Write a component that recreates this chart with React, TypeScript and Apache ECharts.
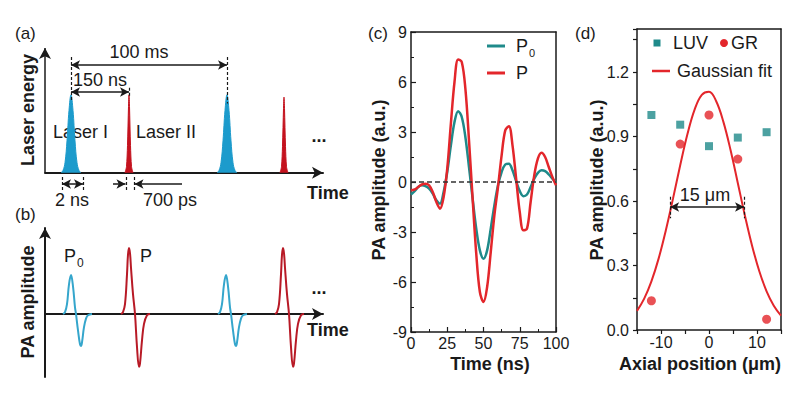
import React, { useEffect, useRef } from "react";
import * as echarts from "echarts";

const FONT = '"Liberation Sans", Arial, Helvetica, sans-serif';

// ---------- Panel (a): schematic laser pulses (schematic units) ----------
const laserIPeaks = [26, 182];
const laserIHeights = [1, 1];
const laserIIPeaks = [84, 239];
const laserIIHeights = [1, 0.97];
const laserIShapeDx = [-10, -8, -6, -4, -2, 0, 2, 4, 6, 8, 10];
const laserIShapeY = [0, 0.03, 0.13, 0.41, 0.8, 1, 0.8, 0.41, 0.13, 0.03, 0];
const laserIIShapeDx = [-4, -2.5, -1.5, -0.5, 0, 0.5, 1.5, 2.5, 4];
const laserIIShapeY = [0, 0.08, 0.35, 0.85, 1, 0.85, 0.35, 0.08, 0];

// ---------- Panel (b): schematic PA signals ----------
const p0Peaks = [26, 181];
const pPeaks = [84, 238];
const p0ShapeDx = [-8, -6, -4, -2, 0, 2, 4, 5, 7, 9, 10, 11, 13, 15, 17, 21];
const p0ShapeY = [0, 0.03, 0.15, 0.45, 0.59, 0.42, 0.1, 0, -0.25, -0.46, -0.485, -0.43, -0.2, -0.07, -0.02, 0];
const pShapeDx = [-8, -6, -4, -2, -1, 0, 1, 2, 4, 6, 8, 10, 11, 13, 15, 18, 21];
const pShapeY = [0, 0.03, 0.15, 0.6, 0.9, 1, 0.92, 0.7, 0.3, 0, -0.5, -0.8, -0.75, -0.4, -0.15, -0.02, 0];

// ---------- Panel (c): measured PA signals ----------
const timeNs = [
  0, 2.5, 5, 7.5, 10, 12.5, 15, 17.5, 20, 22.5, 25, 27.5, 30, 32.5, 35, 37.5, 40, 42.5, 45, 47.5,
  50, 52.5, 55, 57.5, 60, 62.5, 65, 67.5, 70, 72.5, 75, 77.5, 80, 82.5, 85, 87.5, 90, 92.5, 95, 97.5, 100,
];
const ampP0 = [
  -0.75, -0.55, -0.3, -0.2, -0.25, -0.4, -0.7, -1.1, -1.3, -0.6, 0.6, 2.2, 3.6, 4.25, 3.9, 2.7, 0.9, -1.0, -2.8, -4.1,
  -4.6, -4.1, -2.8, -1.4, -0.2, 0.6, 1.05, 1.1, 0.7, 0.05, -0.55, -0.85, -0.75, -0.3, 0.2, 0.55, 0.7, 0.65, 0.45, 0.2, -0.05,
];
const ampP = [
  -0.5, -0.45, -0.3, -0.15, -0.1, -0.2, -0.6, -1.2, -1.6, -0.9, 0.8, 3.5, 6.0, 7.35, 7.2, 5.6, 2.5, -1.0, -4.3, -6.6,
  -7.2, -6.3, -4.2, -2.0, -0.3, 1.6, 3.1, 3.35, 2.2, 0.2, -1.8, -2.9, -2.8, -1.2, 0.4, 1.4, 1.75, 1.5, 0.9, 0.3, -0.2,
];

// ---------- Panel (d): axial profile ----------
const axialPos = [-12, -6, 0, 6, 12];
const luvAmp = [1.0, 0.955, 0.855, 0.895, 0.92];
const grAmp = [0.136, 0.865, 1.0, 0.795, 0.05];
const fitPos = [-15, -13.5, -12, -10.5, -9, -7.5, -6, -4.5, -3, -1.5, 0, 1.5, 3, 4.5, 6, 7.5, 9, 10.5, 12, 13.5, 15];
const fitAmp = [0.089, 0.146, 0.226, 0.332, 0.463, 0.611, 0.766, 0.91, 1.025, 1.094, 1.108, 1.064, 0.968, 0.836, 0.684, 0.53, 0.39, 0.272, 0.18, 0.113, 0.067];

const BLUE_A = "#1c9bcc";
const RED_A = "#c4121e";
const BLUE_B = "#35a6cc";
const RED_B = "#b81a26";
const TEAL = "#1f8a8a";
const RED = "#e3262b";
const DARK = "#1a1a1a";

function pulse(peak: number, h: number, dx: number[], ys: number[]) {
  return dx.map((d, i) => [peak + d, ys[i] * h]);
}

function txt(text: string, x: number, y: number, o: any = {}) {
  return {
    type: "text",
    x,
    y,
    rotation: o.rotation || 0,
    style: {
      text,
      fontFamily: FONT,
      fontSize: o.size || 18,
      fontWeight: o.bold ? "bold" : "normal",
      fill: o.color || DARK,
      align: o.align || "left",
      verticalAlign: "middle",
    },
  };
}

export default function App() {
  const ref = useRef<HTMLDivElement>(null);
  useEffect(() => {
    if (!ref.current) return;
    const chart = echarts.init(ref.current, undefined, { renderer: "svg" });

    const schemAxisLine = {
      show: true,
      symbol: ["none", "arrow"],
      symbolSize: [9, 11],
      lineStyle: { color: DARK, width: 2 },
    };
    const noDeco = {
      axisTick: { show: false },
      axisLabel: { show: false },
      splitLine: { show: false },
    };
    const boxLine = { show: true, onZero: false, lineStyle: { color: DARK, width: 1.5 } };
    const tickLabel = { fontFamily: FONT, fontSize: 16, color: DARK };

    const series: any[] = [];
    laserIPeaks.forEach((p, i) =>
      series.push({
        type: "line", xAxisIndex: 0, yAxisIndex: 0, smooth: 0.4, symbol: "none",
        data: pulse(p, laserIHeights[i], laserIShapeDx, laserIShapeY),
        lineStyle: { color: BLUE_A, width: 1 }, areaStyle: { color: BLUE_A, opacity: 1 },
      })
    );
    laserIIPeaks.forEach((p, i) =>
      series.push({
        type: "line", xAxisIndex: 0, yAxisIndex: 0, smooth: 0.3, symbol: "none",
        data: pulse(p, laserIIHeights[i], laserIIShapeDx, laserIIShapeY),
        lineStyle: { color: RED_A, width: 1 }, areaStyle: { color: RED_A, opacity: 1 },
      })
    );
    // annotations (a): arrows
    series.push({
      type: "line", xAxisIndex: 0, yAxisIndex: 0, data: [],
      markLine: {
        silent: true, symbolSize: [7, 9], label: { show: false },
        lineStyle: { color: DARK, width: 1.5, type: "solid" },
        data: [
          [{ coord: [0, 0], symbol: "none" }, { coord: [0, 1.6], symbol: "arrow", symbolSize: [9, 11] }],
          [{ coord: [26, 1.382], symbol: "arrow" }, { coord: [182, 1.382], symbol: "arrow" }],
          [{ coord: [26, 1.036], symbol: "arrow" }, { coord: [84, 1.036], symbol: "arrow" }],
          [{ coord: [17, -0.144], symbol: "arrow" }, { coord: [38, -0.144], symbol: "arrow" }],
          [{ coord: [68, -0.144], symbol: "none" }, { coord: [80.5, -0.144], symbol: "arrow" }],
          [{ coord: [137, -0.144], symbol: "none" }, { coord: [89.5, -0.144], symbol: "arrow" }],
        ],
      },
    });
    series.push({
      type: "line", xAxisIndex: 0, yAxisIndex: 0, data: [],
      markLine: {
        silent: true, symbol: "none", label: { show: false },
        lineStyle: { color: DARK, width: 1.2, type: [3, 2] },
        data: [
          [{ coord: [26, 1.485] }, { coord: [26, 0.93] }],
          [{ coord: [84, 1.09] }, { coord: [84, 0.98] }],
          [{ coord: [182, 1.485] }, { coord: [182, 0.89] }],
          [{ coord: [17, -0.054] }, { coord: [17, -0.233] }],
          [{ coord: [38, -0.054] }, { coord: [38, -0.233] }],
          [{ coord: [81, -0.054] }, { coord: [81, -0.233] }],
          [{ coord: [89, -0.054] }, { coord: [89, -0.233] }],
        ],
      },
    });
    // (b)
    p0Peaks.forEach((p) =>
      series.push({
        type: "line", xAxisIndex: 1, yAxisIndex: 1, smooth: 0.4, symbol: "none",
        data: pulse(p, 1, p0ShapeDx, p0ShapeY), lineStyle: { color: BLUE_B, width: 2 },
      })
    );
    pPeaks.forEach((p) =>
      series.push({
        type: "line", xAxisIndex: 1, yAxisIndex: 1, smooth: 0.4, symbol: "none",
        data: pulse(p, 1, pShapeDx, pShapeY), lineStyle: { color: RED_B, width: 2 },
      })
    );
    // (c)
    series.push({
      name: "P0", type: "line", xAxisIndex: 2, yAxisIndex: 2, smooth: 0.35, symbol: "none",
      data: timeNs.map((t, i) => [t, ampP0[i]]), lineStyle: { color: TEAL, width: 2.5 }, z: 3,
      markLine: {
        silent: true, symbol: "none", label: { show: false },
        lineStyle: { color: "#333", width: 1.5, type: [5, 3] },
        data: [{ yAxis: 0 }],
      },
    });
    series.push({
      name: "P", type: "line", xAxisIndex: 2, yAxisIndex: 2, smooth: 0.35, symbol: "none",
      data: timeNs.map((t, i) => [t, ampP[i]]), lineStyle: { color: RED, width: 2.5 }, z: 4,
    });
    // (d)
    series.push({
      name: "Gaussian fit", type: "line", xAxisIndex: 4, yAxisIndex: 4, smooth: 0.4, symbol: "none",
      data: fitPos.map((x, i) => [x, fitAmp[i]]), lineStyle: { color: RED, width: 2 },
      markLine: {
        silent: true, symbolSize: [7, 9], label: { show: false },
        lineStyle: { color: DARK, width: 1.5, type: "solid" },
        data: [[{ coord: [-8.1, 0.572], symbol: "arrow" }, { coord: [7.3, 0.572], symbol: "arrow" }]],
      },
    });
    series.push({
      type: "line", xAxisIndex: 4, yAxisIndex: 4, data: [],
      markLine: {
        silent: true, symbol: "none", label: { show: false },
        lineStyle: { color: DARK, width: 1.2, type: [3, 2] },
        data: [
          [{ coord: [-8.1, 0.62] }, { coord: [-8.1, 0.52] }],
          [{ coord: [7.3, 0.62] }, { coord: [7.3, 0.52] }],
        ],
      },
    });
    series.push({
      name: "LUV", type: "scatter", xAxisIndex: 4, yAxisIndex: 4, symbol: "rect", symbolSize: 8,
      data: axialPos.map((x, i) => [x, luvAmp[i]]), itemStyle: { color: TEAL },
    });
    series.push({
      name: "GR", type: "scatter", xAxisIndex: 4, yAxisIndex: 4, symbol: "circle", symbolSize: 9,
      data: axialPos.map((x, i) => [x, grAmp[i]]), itemStyle: { color: RED },
    });

    const option: any = {
      animation: false,
      backgroundColor: "#ffffff",
      grid: [
        { left: 45, top: 48, width: 278, height: 156 },
        { left: 45, top: 228, width: 278, height: 149 },
        { left: 411, top: 32, width: 145, height: 300 },
        { left: 637, top: 29, width: 144, height: 301 },
      ],
      xAxis: [
        { type: "value", gridIndex: 0, min: 0, max: 278, axisLine: schemAxisLine, ...noDeco },
        { type: "value", gridIndex: 1, min: 0, max: 278, axisLine: schemAxisLine, ...noDeco },
        {
          type: "value", gridIndex: 2, min: 0, max: 100, interval: 25,
          axisLine: boxLine,
          axisTick: { show: true, inside: true, length: 5, lineStyle: { color: DARK, width: 1.2 } },
          minorTick: { show: true, splitNumber: 2, length: 3, lineStyle: { color: DARK, width: 1 } },
          axisLabel: { ...tickLabel, margin: 3 },
          splitLine: { show: false },
        },
        { type: "value", gridIndex: 2, position: "top", min: 0, max: 100, axisLine: boxLine, ...noDeco },
        {
          type: "value", gridIndex: 3, min: -15, max: 15, interval: 5,
          axisLine: boxLine,
          axisTick: { show: true, inside: false, length: 4, lineStyle: { color: DARK, width: 1.2 } },
          axisLabel: { ...tickLabel, margin: 4, formatter: (v: number) => (Math.round(v) % 10 === 0 ? String(Math.round(v)) : "") },
          splitLine: { show: false },
        },
        { type: "value", gridIndex: 3, position: "top", min: -15, max: 15, axisLine: boxLine, ...noDeco },
      ],
      yAxis: [
        { type: "value", gridIndex: 0, min: -0.4, max: 1.6, axisLine: { show: false }, ...noDeco },
        { type: "value", gridIndex: 1, min: -0.955, max: 1.303, axisLine: schemAxisLine, ...noDeco },
        {
          type: "value", gridIndex: 2, min: -9, max: 9, interval: 3,
          axisLine: boxLine,
          axisTick: { show: true, inside: true, length: 5, lineStyle: { color: DARK, width: 1.2 } },
          minorTick: { show: true, splitNumber: 2, length: 3, lineStyle: { color: DARK, width: 1 } },
          axisLabel: { ...tickLabel, margin: 4 },
          splitLine: { show: false },
        },
        { type: "value", gridIndex: 2, position: "right", min: -9, max: 9, axisLine: boxLine, ...noDeco },
        {
          type: "value", gridIndex: 3, min: 0, max: 1.4, interval: 0.15,
          axisLine: boxLine,
          axisTick: { show: true, inside: false, length: 4, lineStyle: { color: DARK, width: 1.2 } },
          axisLabel: {
            ...tickLabel, margin: 8,
            formatter: (v: number) => {
              const k = Math.round(v / 0.15);
              return k % 2 === 0 && v < 1.3 ? v.toFixed(1) : "";
            },
          },
          splitLine: { show: false },
        },
        { type: "value", gridIndex: 3, position: "right", min: 0, max: 1.4, axisLine: boxLine, ...noDeco },
      ],
      series,
      graphic: [
        // panel (a)
        txt("(a)", 15, 33, { size: 17 }),
        txt("Laser energy", 28, 110, { bold: true, rotation: Math.PI / 2, align: "center" }),
        txt("100 ms", 139, 52, { align: "center" }),
        txt("150 ns", 100, 80, { align: "center" }),
        txt("Laser I", 53, 132),
        txt("Laser II", 136, 132),
        txt("...", 319, 136, { align: "center", bold: true }),
        txt("Time", 307, 193, { bold: true }),
        txt("2 ns", 72, 200, { align: "center" }),
        txt("700 ps", 170, 200, { align: "center" }),
        // panel (b)
        txt("(b)", 15, 214, { size: 17 }),
        txt("PA amplitude", 28, 302, { bold: true, rotation: Math.PI / 2, align: "center" }),
        txt("P", 64, 256),
        txt("0", 77, 263, { size: 12 }),
        txt("P", 140, 256),
        txt("...", 319, 288, { align: "center", bold: true }),
        txt("Time", 307, 330, { bold: true }),
        // panel (c)
        txt("(c)", 368, 33, { size: 17 }),
        txt("PA amplitude (a.u.)", 379, 180, { bold: true, rotation: Math.PI / 2, align: "center" }),
        txt("Time (ns)", 490, 364, { bold: true, align: "center" }),
        { type: "line", shape: { x1: 487, y1: 46, x2: 505, y2: 46 }, style: { stroke: TEAL, lineWidth: 3 } },
        txt("P", 516, 46),
        txt("0", 529, 53, { size: 11 }),
        { type: "line", shape: { x1: 487, y1: 73, x2: 505, y2: 73 }, style: { stroke: RED, lineWidth: 3 } },
        txt("P", 516, 73),
        // panel (d)
        txt("(d)", 575, 33, { size: 17 }),
        txt("PA amplitude (a.u.)", 597, 180, { bold: true, rotation: Math.PI / 2, align: "center" }),
        txt("Axial position (μm)", 700, 364, { bold: true, align: "center" }),
        { type: "rect", shape: { x: 653.5, y: 39.5, width: 7, height: 7 }, style: { fill: TEAL } },
        txt("LUV", 673, 43),
        { type: "circle", shape: { cx: 724, cy: 43, r: 4 }, style: { fill: RED } },
        txt("GR", 731, 43),
        { type: "line", shape: { x1: 652, y1: 71, x2: 670, y2: 71 }, style: { stroke: RED, lineWidth: 2.5 } },
        txt("Gaussian fit", 677, 71),
        txt("15 μm", 705, 195, { align: "center" }),
      ],
    };
    chart.setOption(option);
    return () => chart.dispose();
  }, []);
  return (
    <div
      ref={ref}
      style={{ position: "fixed", left: 0, top: 0, width: 800, height: 400, background: "#fff" }}
    />
  );
}
